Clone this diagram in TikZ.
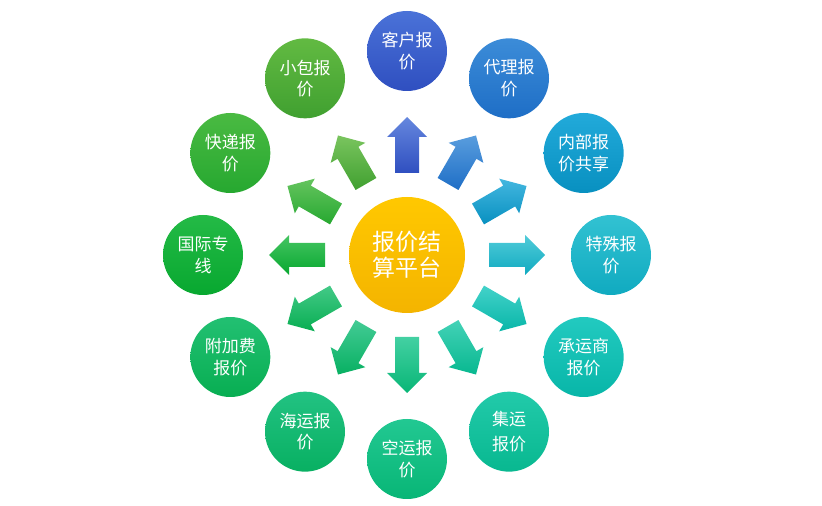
\documentclass[tikz,border=0pt]{standalone}
\usepackage{fontspec}
\newfontfamily\cjk{Noto Sans CJK SC}
\usetikzlibrary{calc}
\begin{document}
\begin{tikzpicture}[x=1pt,y=1pt,
  item/.style={circle,minimum size=80pt,inner sep=0pt,align=center,text=white,
    font=\cjk\fontsize{17}{21.5}\selectfont},
  hub/.style={circle,minimum size=116pt,inner sep=0pt,align=center,text=white,
    font=\cjk\fontsize{23}{26.5}\selectfont,top color=hubA,bottom color=hubB}
]
\definecolor{hubA}{HTML}{FFC800}
\definecolor{hubB}{HTML}{F4B400}
\useasboundingbox (0,0) rectangle (822,506);
\coordinate (c) at (407,251);
\node[hub] (hub) at (c) {报价结\\算平台};
\foreach \ang/\nm/\ca/\cb/\txt in {
  90/kehu/4A72D8/2F4FC0/{客户报\\价},
  60/daili/3C8CD8/1E6EC6/{代理报\\价},
  30/neibu/22AADA/0890C0/{内部报\\价共享},
  0/teshu/32C2D2/10AAC0/{特殊报\\价},
  -30/chengyun/22CAC0/08B6A8/{承运商\\报价},
  -60/jiyun/22CAAA/08B890/{集运\\[4pt]报价},
  -90/kongyun/22C892/08B676/{空运报\\价},
  -120/haiyun/22C282/08B062/{海运报\\价},
  -150/fujia/22C072/08AE52/{附加费\\报价},
  180/guoji/24BA46/08A830/{国际专\\线},
  150/kuaidi/4ABA42/26A830/{快递报\\价},
  120/xiaobao/62BA42/40A030/{小包报\\价}}{
  \definecolor{tc\nm}{HTML}{\ca}
  \definecolor{bc\nm}{HTML}{\cb}
  \node[item,top color=tc\nm,bottom color=bc\nm] (\nm) at ($(c)+(\ang:204)$) {\txt};
  \pgfmathsetmacro{\pa}{\ang+90}
  \path[top color=tc\nm!85!white,bottom color=bc\nm]
    ($(c)+(\ang:82)+(\pa:12)$) -- ($(c)+(\ang:118)+(\pa:12)$)
    -- ($(c)+(\ang:118)+(\pa:20)$) -- ($(c)+(\ang:138)$)
    -- ($(c)+(\ang:118)+(\pa:-20)$) -- ($(c)+(\ang:118)+(\pa:-12)$)
    -- ($(c)+(\ang:82)+(\pa:-12)$) -- cycle;
}
\end{tikzpicture}
\end{document}
